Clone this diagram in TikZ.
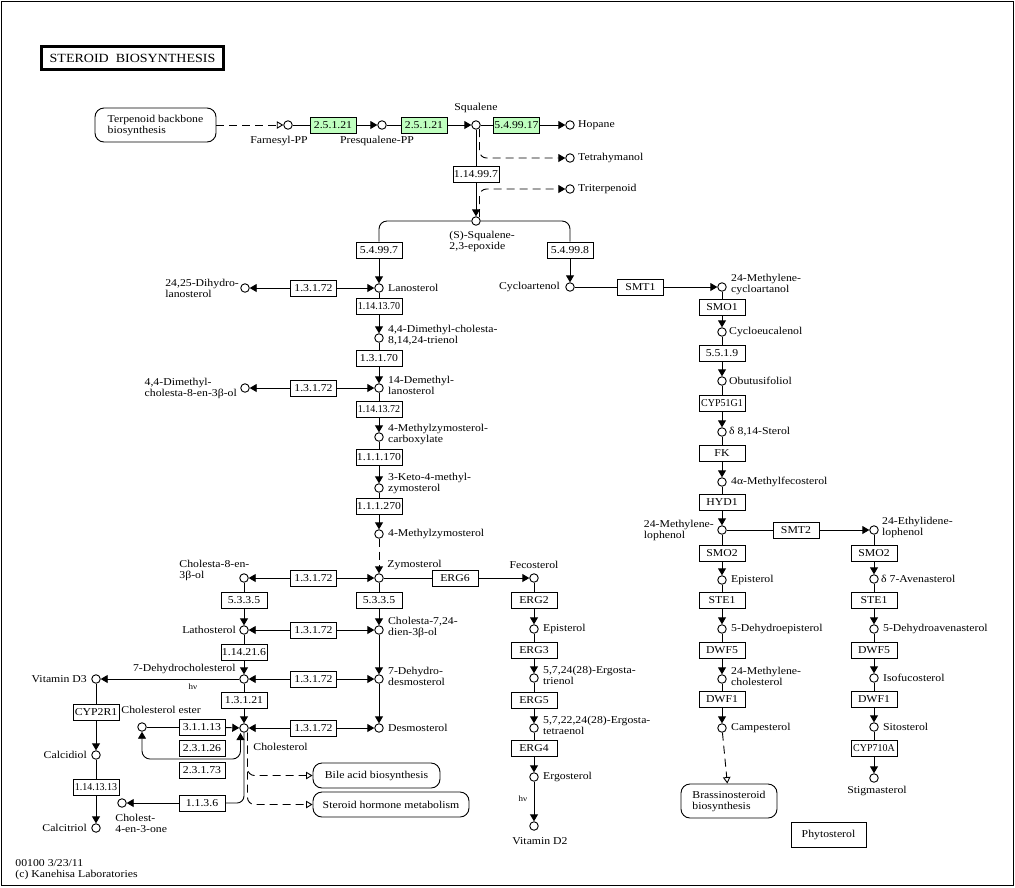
\documentclass[tikz,border=0pt]{standalone}
\usepackage{fontspec}
\setmainfont{Liberation Serif}[FakeStretch=1.12]
\newfontfamily\ecnfont{Liberation Serif}[FakeStretch=0.95]
\usetikzlibrary{arrows.meta, positioning}
\definecolor{keggreen}{HTML}{BFFFBF}

\begin{document}
\begin{tikzpicture}[x=1pt, y=-1pt, line width=0.9pt,
  every node/.style={font=\fontsize{10.5}{11}\selectfont, inner sep=1pt},
  cpd/.style={draw, circle, minimum size=8.5pt, inner sep=0pt, fill=white},
  enz/.style={draw, rectangle, minimum width=46pt, minimum height=16pt, inner xsep=1pt, fill=white},
  gene/.style={enz, fill=keggreen},
  mapbox/.style={draw, rounded corners=9pt, align=left},
  lbl/.style={align=left},
  lbl2/.style={align=left, yshift=2.5pt},
  hv/.style={font=\fontsize{8}{9}\selectfont},
  arr/.style={-{Triangle[length=7pt,width=8pt]}},
  oarr/.style={-{Triangle[open,length=6.5pt,width=7.5pt]}},
  dsh/.style={dash pattern=on 8pt off 5pt}]
\useasboundingbox (0,0) rectangle (1015,887);
\draw (1,1) rectangle (1013,885);

% Title and maps
\node (title) [draw, line width=2.6pt, minimum width=182pt, minimum height=23pt,
  font=\fontsize{12.5}{14}\selectfont] at (132.5,58) {STEROID\ \ BIOSYNTHESIS};
\node (Terp) [mapbox, minimum width=121pt, minimum height=34pt] at (155.5,125) {Terpenoid backbone\\biosynthesis};
\node (Bile) [mapbox, minimum width=127pt, minimum height=25pt] at (376.5,775.5) {Bile acid biosynthesis};
\node (Horm) [mapbox, minimum width=156pt, minimum height=25pt] at (391,804.5) {Steroid hormone metabolism};
\node (Brass) [mapbox, minimum width=96pt, minimum height=34pt] at (729,801) {Brassinosteroid\\biosynthesis};
\node (Phyto) [draw, minimum width=75pt, minimum height=25pt] at (828.5,834.5) {Phytosterol};

% Squalene part
\node (Farn) [cpd] at (288,125) {};
\node (Presq) [cpd] at (382,125) {};
\node (Squal) [cpd] at (476,125) {};
\node (Hopane) [cpd] at (570,125) {};
\node (Tetra) [cpd] at (570,158) {};
\node (Triter) [cpd] at (570,189) {};
\node (Epox) [cpd] at (476,221) {};
\node (g1) [gene] at (333,125) {2.5.1.21};
\node (g2) [gene] at (424,125) {2.5.1.21};
\node (g3) [gene] at (516.5,125) {5.4.99.17};
\node (e11499) [enz] at (476,174) {1.14.99.7};
\node (e54997) [enz] at (379,250) {5.4.99.7};
\node (e54998) [enz] at (570,250) {5.4.99.8};

% Lanosterol column
\node (Lano) [cpd] at (379,288) {};
\node (Trienol) [cpd] at (379,338) {};
\node (DemLano) [cpd] at (379,388) {};
\node (MZC) [cpd] at (379,437) {};
\node (Keto) [cpd] at (379,488) {};
\node (MZ) [cpd] at (379,534) {};
\node (Zymo) [cpd] at (379,578) {};
\node (Ch724) [cpd] at (379,630) {};
\node (DHD) [cpd] at (379,679) {};
\node (Desmo) [cpd] at (379,728) {};
\node (e70) [enz] at (379,306) {\ecnfont 1.14.13.70};
\node (e1370) [enz] at (379,358) {1.3.1.70};
\node (e72) [enz] at (379,409) {\ecnfont 1.14.13.72};
\node (e170) [enz] at (379,457) {1.1.1.170};
\node (e270) [enz] at (379,506) {1.1.1.270};
\node (e5335b) [enz] at (379,600) {5.3.3.5};

% 1.3.1.72 side branches
\node (DiHLano) [cpd] at (245,288) {};
\node (DMChol) [cpd] at (245,388) {};
\node (Ch8) [cpd] at (244,578) {};
\node (Lath) [cpd] at (244,630) {};
\node (DHC) [cpd] at (244,679) {};
\node (Chol) [cpd] at (244,728) {};
\foreach \n/\y in {r1/288, r2/388, r3/578, r4/630, r5/679, r6/728}
  \node (\n) [enz] at (313.5,\y) {1.3.1.72};
\node (e5335a) [enz] at (244,600) {5.3.3.5};
\node (e14216) [enz] at (244,652) {1.14.21.6};
\node (e13121) [enz] at (244,700) {1.3.1.21};

% Vitamin D3 and cholesterol
\node (VitD3) [cpd] at (96,679) {};
\node (Calcidiol) [cpd] at (96,755) {};
\node (Calcitriol) [cpd] at (96,828) {};
\node (CE) [cpd] at (142,727) {};
\node (Cholone) [cpd] at (122,803) {};
\node (cyp2r1) [enz] at (96,712) {CYP2R1};
\node (e141313) [enz] at (96,787) {\ecnfont 1.14.13.13};
\node (e31113) [enz] at (202,727) {3.1.1.13};
\node (e23126) [enz] at (202,748) {2.3.1.26};
\node (e23173) [enz] at (202,770) {2.3.1.73};
\node (e1136) [enz] at (202,803) {1.1.3.6};

% Ergosterol column
\node (Feco) [cpd] at (534,578) {};
\node (Epi) [cpd] at (534,629) {};
\node (Trien) [cpd] at (534,678) {};
\node (Tetraen) [cpd] at (534,728) {};
\node (Ergo) [cpd] at (534,777) {};
\node (VitD2) [cpd] at (534,826) {};
\node (erg6) [enz] at (455,578) {ERG6};
\node (erg2) [enz] at (534,600) {ERG2};
\node (erg3) [enz] at (534,650) {ERG3};
\node (erg5) [enz] at (534,700) {ERG5};
\node (erg4) [enz] at (534,748) {ERG4};

% Phytosterol columns
\node (Cyclo) [cpd] at (570,287) {};
\node (MCyc) [cpd] at (722,287) {};
\node (Cycloeu) [cpd] at (722,332) {};
\node (Obtu) [cpd] at (722,381) {};
\node (Sterol) [cpd] at (722,432) {};
\node (MFeco) [cpd] at (722,482) {};
\node (MLoph) [cpd] at (722,530) {};
\node (EpiP) [cpd] at (722,580) {};
\node (DEpi) [cpd] at (722,629) {};
\node (MChol) [cpd] at (722,679) {};
\node (Campe) [cpd] at (722,728) {};
\node (ELoph) [cpd] at (874,530) {};
\node (Aven) [cpd] at (874,579) {};
\node (DAven) [cpd] at (874,629) {};
\node (Isofuco) [cpd] at (874,678) {};
\node (Sito) [cpd] at (874,727) {};
\node (Stigma) [cpd] at (874,778) {};
\node (smt1) [enz] at (640.5,287) {SMT1};
\node (smo1) [enz] at (722,307) {SMO1};
\node (e5519) [enz] at (722,353) {5.5.1.9};
\node (cyp51) [enz] at (722,403) {\ecnfont CYP51G1};
\node (fk) [enz] at (722,453) {FK};
\node (hyd1) [enz] at (722,502) {HYD1};
\node (smt2) [enz] at (796,530) {SMT2};
\node (smo2a) [enz] at (722,553) {SMO2};
\node (ste1a) [enz] at (722,600) {STE1};
\node (dwf5a) [enz] at (722,650) {DWF5};
\node (dwf1a) [enz] at (722,699) {DWF1};
\node (smo2b) [enz] at (874,553) {SMO2};
\node (ste1b) [enz] at (874,600) {STE1};
\node (dwf5b) [enz] at (874,650) {DWF5};
\node (dwf1b) [enz] at (874,699) {DWF1};
\node (cyp710) [enz] at (874,748) {\ecnfont CYP710A};

% Compound names
\node (tFarn) [lbl] at (279,141) {Farnesyl-PP};
\node (tPresq) [lbl] at (377,141) {Presqualene-PP};
\node (tSqual) [lbl] at (476,108) {Squalene};
\node (tHopane) [lbl, right=2pt of Hopane] {Hopane};
\node (tTetra) [lbl, right=2pt of Tetra] {Tetrahymanol};
\node (tTriter) [lbl, right=2pt of Triter] {Triterpenoid};
\node (tEpox) [lbl, anchor=north west] at (448,230) {(S)-Squalene-\\2,3-epoxide};
\node (tLano) [lbl, right=3pt of Lano] {Lanosterol};
\node (tDiHLano) [lbl, left=0pt of DiHLano] {24,25-Dihydro-\\lanosterol};
\node (tTrienol) [lbl2, right=3pt of Trienol] {4,4-Dimethyl-cholesta-\\8,14,24-trienol};
\node (tDMChol) [lbl, left=2pt of DMChol] {4,4-Dimethyl-\\cholesta-8-en-3β-ol};
\node (tDemLano) [lbl2, right=3pt of DemLano] {14-Demethyl-\\lanosterol};
\node (tMZC) [lbl2, right=3pt of MZC] {4-Methylzymosterol-\\carboxylate};
\node (tKeto) [lbl2, right=3pt of Keto, yshift=2pt] {3-Keto-4-methyl-\\zymosterol};
\node (tMZ) [lbl, right=3pt of MZ] {4-Methylzymosterol};
\node (tZymo) [lbl, anchor=west] at (386,565) {Zymosterol};
\node (tFeco) [lbl] at (534,565) {Fecosterol};
\node (tCh8) [lbl, anchor=west] at (178,570.5) {Cholesta-8-en-\\3β-ol};
\node (tLath) [lbl, left=2pt of Lath] {Lathosterol};
\node (tDHC) [lbl, anchor=east] at (237,669) {7-Dehydrocholesterol};
\node (tChol) [lbl, anchor=west] at (252,747) {Cholesterol};
\node (tCE) [lbl, anchor=west] at (120,710) {Cholesterol ester};
\node (tVitD3) [lbl, left=3pt of VitD3] {Vitamin D3};
\node (tCalcidiol) [lbl, left=3pt of Calcidiol] {Calcidiol};
\node (tCalcitriol) [lbl, left=3pt of Calcitriol] {Calcitriol};
\node (tCholone) [lbl, anchor=west] at (114,823) {Cholest-\\4-en-3-one};
\node (thv1) [hv] at (193,687) {hν};
\node (tCh724) [lbl2, right=3pt of Ch724] {Cholesta-7,24-\\dien-3β-ol};
\node (tDHD) [lbl2, right=3pt of DHD] {7-Dehydro-\\desmosterol};
\node (tDesmo) [lbl, right=3pt of Desmo] {Desmosterol};
\node (tEpi) [lbl, right=3pt of Epi] {Episterol};
\node (tTrien) [lbl2, right=3pt of Trien] {5,7,24(28)-Ergosta-\\trienol};
\node (tTetraen) [lbl2, right=3pt of Tetraen] {5,7,22,24(28)-Ergosta-\\tetraenol};
\node (tErgo) [lbl, right=3pt of Ergo] {Ergosterol};
\node (thv2) [hv] at (523,799) {hν};
\node (tVitD2) [lbl] at (540,841) {Vitamin D2};
\node (tCyclo) [lbl, left=4pt of Cyclo] {Cycloartenol};
\node (tMCyc) [lbl2, right=3pt of MCyc] {24-Methylene-\\cycloartanol};
\node (tCycloeu) [lbl, right=1pt of Cycloeu] {Cycloeucalenol};
\node (tObtu) [lbl, right=1pt of Obtu] {Obutusifoliol};
\node (tSterol) [lbl, right=1pt of Sterol] {δ 8,14-Sterol};
\node (tMFeco) [lbl, right=3pt of MFeco] {4α-Methylfecosterol};
\node (tMLoph) [lbl, left=2pt of MLoph] {24-Methylene-\\lophenol};
\node (tELoph) [lbl2, right=2pt of ELoph] {24-Ethylidene-\\lophenol};
\node (tEpiP) [lbl, right=3pt of EpiP] {Episterol};
\node (tAven) [lbl, right=1pt of Aven] {δ 7-Avenasterol};
\node (tDEpi) [lbl, right=3pt of DEpi] {5-Dehydroepisterol};
\node (tDAven) [lbl, right=3pt of DAven] {5-Dehydroavenasterol};
\node (tMChol) [lbl2, right=3pt of MChol] {24-Methylene-\\cholesterol};
\node (tIsofuco) [lbl, right=3pt of Isofuco] {Isofucosterol};
\node (tCampe) [lbl, right=3pt of Campe] {Campesterol};
\node (tSito) [lbl, right=3pt of Sito] {Sitosterol};
\node (tStigma) [lbl] at (877,791) {Stigmasterol};
\node (foot) [lbl, anchor=west] at (14,870) {00100 3/23/11\\(c) Kanehisa Laboratories};

% Free ends
\coordinate (sqd) at (479.5,129);
\coordinate (epd) at (479.5,217);
\coordinate (chd) at (247.5,732.5);
\coordinate (chbl) at (240.5,733);
\coordinate (loopb) at (191,759);

% Squalene reactions
\draw[dsh, oarr] (Terp) -- (Farn);
\draw (Farn) -- (g1);
\draw[arr] (g1) -- (Presq);
\draw (Presq) -- (g2);
\draw[arr] (g2) -- (Squal);
\draw (Squal) -- (g3);
\draw[arr] (g3) -- (Hopane);
\draw[dsh, arr, rounded corners=7pt] (sqd) |- (Tetra);
\draw (Squal) -- (e11499);
\draw[arr] (e11499) -- (Epox);
\draw[dsh, arr, rounded corners=7pt] (epd) |- (Triter);
\draw[rounded corners=8pt] (Epox) -| (e54997);
\draw[arr] (e54997) -- (Lano);
\draw[rounded corners=8pt] (Epox) -| (e54998);
\draw[arr] (e54998) -- (Cyclo);

% Lanosterol to zymosterol
\draw (Lano) -- (e70);
\draw[arr] (e70) -- (Trienol);
\draw (Trienol) -- (e1370);
\draw[arr] (e1370) -- (DemLano);
\draw (DemLano) -- (e72);
\draw[arr] (e72) -- (MZC);
\draw (MZC) -- (e170);
\draw[arr] (e170) -- (Keto);
\draw (Keto) -- (e270);
\draw[arr] (e270) -- (MZ);
\draw[dsh, arr] (MZ) -- (Zymo);
\draw (Zymo) -- (e5335b);
\draw[arr] (e5335b) -- (Ch724);
\draw[arr] (Ch724) -- (DHD);
\draw[arr] (DHD) -- (Desmo);

% 1.3.1.72 (both ways)
\foreach \r/\a/\b in {r1/DiHLano/Lano, r2/DMChol/DemLano, r3/Ch8/Zymo,
                      r4/Lath/Ch724, r5/DHC/DHD, r6/Chol/Desmo} {
  \draw[arr] (\r) -- (\a);
  \draw[arr] (\r) -- (\b);
}

% Cholesterol column
\draw (Ch8) -- (e5335a);
\draw[arr] (e5335a) -- (Lath);
\draw (Lath) -- (e14216);
\draw[arr] (e14216) -- (DHC);
\draw (DHC) -- (e13121);
\draw[arr] (e13121) -- (Chol);
\draw[arr] (DHC) -- (VitD3);
\draw (VitD3) -- (cyp2r1);
\draw[arr] (cyp2r1) -- (Calcidiol);
\draw (Calcidiol) -- (e141313);
\draw[arr] (e141313) -- (Calcitriol);
\draw (CE) -- (e31113);
\draw[arr] (e31113) -- (Chol);
\draw[{Triangle[length=7pt,width=8pt]}-{Triangle[length=7pt,width=8pt]}, rounded corners=8pt]
  (CE) |- (loopb) -| (chbl);
\draw[rounded corners=7pt] (Chol) |- (e1136);
\draw[arr] (e1136) -- (Cholone);
\draw[dsh, oarr, rounded corners=7pt] (chd) |- (Bile);
\draw[dsh, oarr, rounded corners=7pt] (chd) |- (Horm);

% Ergosterol
\draw (Zymo) -- (erg6);
\draw[arr] (erg6) -- (Feco);
\draw (Feco) -- (erg2);
\draw[arr] (erg2) -- (Epi);
\draw (Epi) -- (erg3);
\draw[arr] (erg3) -- (Trien);
\draw (Trien) -- (erg5);
\draw[arr] (erg5) -- (Tetraen);
\draw (Tetraen) -- (erg4);
\draw[arr] (erg4) -- (Ergo);
\draw[arr] (Ergo) -- (VitD2);

% Phytosterols
\draw (Cyclo) -- (smt1);
\draw[arr] (smt1) -- (MCyc);
\foreach \a/\e/\b in {MCyc/smo1/Cycloeu, Cycloeu/e5519/Obtu, Obtu/cyp51/Sterol,
    Sterol/fk/MFeco, MFeco/hyd1/MLoph, MLoph/smt2/ELoph, MLoph/smo2a/EpiP,
    EpiP/ste1a/DEpi, DEpi/dwf5a/MChol, MChol/dwf1a/Campe, ELoph/smo2b/Aven,
    Aven/ste1b/DAven, DAven/dwf5b/Isofuco, Isofuco/dwf1b/Sito, Sito/cyp710/Stigma} {
  \draw (\a) -- (\e);
  \draw[arr] (\e) -- (\b);
}
\draw[dsh, oarr] (Campe) -- (Brass);
\end{tikzpicture}
\end{document}
